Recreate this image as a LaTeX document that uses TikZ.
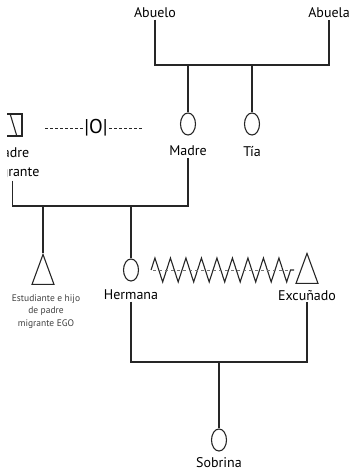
\documentclass[tikz,border=0pt]{standalone}
\usepackage{fontspec}
\setmainfont{PT Sans}
\usetikzlibrary{positioning,shapes.geometric,decorations.pathmorphing}
\tikzset{
  fem/.style   = {draw, ellipse, minimum width=15pt, minimum height=22pt,
                  inner sep=0pt},
  masc/.style  = {draw, isosceles triangle, isosceles triangle stretches,
                  shape border rotate=90, minimum width=22pt,
                  minimum height=30pt, inner sep=0pt},
  varon/.style = {draw, minimum width=19pt, minimum height=22pt, inner sep=0pt},
  nom/.style   = {font=\fontsize{14}{19}\selectfont, inner sep=1pt, align=center},
  nota/.style  = {font=\fontsize{9.5}{12.5}\selectfont, inner sep=1pt,
                  align=center, text=black!75},
  lin/.style   = {line width=1.1pt, draw=black!85},
  zz/.style    = {decorate, decoration={zigzag, segment length=15.5pt,
                  amplitude=12pt}},
  sepr/.style  = {dashed, dash pattern=on 3pt off 2pt, line width=0.8pt},
}
\begin{document}
\begin{tikzpicture}[x=1pt, y=-1pt, lin]
\useasboundingbox (0,0) rectangle (354,473);
\clip (7,0) rectangle (354,473);
% abuelos
\node[nom] (abuelo) at (155,13) {Abuelo};
\node[nom] (abuela) at (329,13) {Abuela};
\coordinate (hermanos) at (220,65);
\draw (abuelo.south) |- (hermanos) -| (abuela.south);
\node[fem] (madre) at (188,124) {};
\node[fem] (tia) at (252,124) {};
\draw[line width=2pt] (madre.north) -- (madre.north |- hermanos);
\draw (tia.north) -- (tia.north |- hermanos);
\node[nom, below=9pt of madre] (lmadre) {Madre};
\node[nom, below=9pt of tia] (ltia) {Tía};
% padre
\node[varon] (padre) at (12.5,125) {};
\draw ([xshift=-2.5pt]padre.north) -- ([xshift=4.5pt]padre.south);
\node[nom, below=9pt of padre] (lpadre) {Padre\\migrante};
\node[font=\fontsize{20}{20}\selectfont, inner sep=1pt] (sep) at (96,128) {|O|};
\coordinate (sepL) at (45,128);
\coordinate (sepR) at (143,128);
\draw[sepr] (sepL) -- (sep.west);
\draw[sepr] (sep.east) -- (sepR);
% hijos
\coordinate (hijos) at (100,206);
\draw (lpadre.south) |- (hijos) -| (lmadre.south);
\node[masc, anchor=apex] (ego) at (43,253) {};
\draw (ego.apex) -- (ego.apex |- hijos);
\node[nota, below=8pt of ego, xshift=3pt] (lego) {Estudiante e hijo\\de padre\\migrante EGO};
\node[fem] (hermana) at (131,270) {};
\draw (hermana.north) -- (hermana.north |- hijos);
\node[nom, below=7pt of hermana] (lhermana) {Hermana};
\node[masc, anchor=apex] (excunado) at (307,252) {};
\node[nom, below=5pt of excunado] (lexcunado) {Excuñado};
\draw[zz] ([xshift=12pt]hermana.east) -- ([xshift=155pt]hermana.east);
\draw[dashed, black!55, thin] ([xshift=14pt]hermana.east) -- ([xshift=152pt]hermana.east);
% sobrina
\coordinate (nietos) at (219,362);
\draw (lhermana.south) |- (nietos) -| (lexcunado.south);
\node[fem] (sobrina) at (219,440) {};
\draw (sobrina.north) -- (sobrina.north |- nietos);
\node[nom, below=4pt of sobrina] (lsobrina) {Sobrina};
\end{tikzpicture}
\end{document}
